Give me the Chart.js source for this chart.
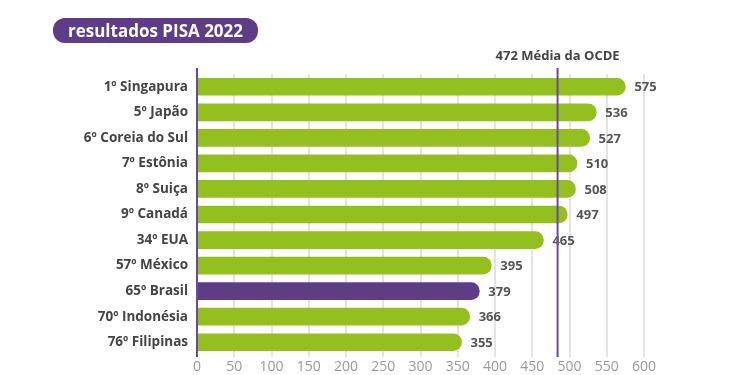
<!DOCTYPE html>
<html>
<head>
<meta charset="utf-8">
<script src="https://cdn.jsdelivr.net/npm/chart.js@4"></script>
<style>
  html, body { margin: 0; padding: 0; background: #fff; }
  #wrap { position: relative; width: 750px; height: 375px; }
  #title {
    position: absolute; left: 53px; top: 18px; width: 205px; height: 25px;
    background: #5e3d86; border-radius: 12px; color: #fff;
    font: 700 17px "Open Sans", sans-serif; text-align: center; line-height: 25px;
  }
  canvas { position: absolute; left: 0; top: 0; }
</style>
</head>
<body>
<div id="wrap">
  <canvas id="chart" width="750" height="375"></canvas>
  <div id="title">resultados PISA 2022</div>
</div>
<script>
const countries = ["1º Singapura", "5º Japão", "6º Coreia do Sul", "7º Estônia", "8º Suiça", "9º Canadá",
  "34º EUA", "57º México", "65º Brasil", "70º Indonésia", "76º Filipinas"];
const scores = [575, 536, 527, 510, 508, 497, 465, 395, 379, 366, 355];
const xTicks = [0, 50, 100, 150, 200, 250, 300, 350, 400, 450, 500, 550, 600];
const oecdLabel = "472 Média da OCDE";
const oecdLinePos = 484;

const green = "#93c01f";
const purple = "#5e3d86";
const font = "'Open Sans', sans-serif";

const barColors = countries.map(c => c.includes("Brasil") ? purple : green);

const overlay = {
  id: "overlay",
  afterDatasetsDraw(chart) {
    const { ctx, chartArea } = chart;
    const x = chart.scales.x;
    const meta = chart.getDatasetMeta(0);
    ctx.save();
    // value labels
    ctx.fillStyle = "#555";
    ctx.font = "700 13px " + font;
    ctx.textBaseline = "middle";
    meta.data.forEach((bar, i) => {
      ctx.fillText(scores[i], bar.x + 9, bar.y + 1);
    });
    // zero line
    ctx.strokeStyle = "#6b4a9a";
    ctx.lineWidth = 2;
    const x0 = x.getPixelForValue(0);
    ctx.beginPath();
    ctx.moveTo(x0, chartArea.top - 6);
    ctx.lineTo(x0, chartArea.bottom + 2);
    ctx.stroke();
    // OECD line
    const xm = x.getPixelForValue(oecdLinePos);
    ctx.beginPath();
    ctx.moveTo(xm, chartArea.top - 6);
    ctx.lineTo(xm, chartArea.bottom + 2);
    ctx.stroke();
    ctx.fillStyle = "#444";
    ctx.textAlign = "center";
    ctx.font = "700 13px " + font;
    ctx.fillText(oecdLabel, xm, chartArea.top - 18);
    ctx.restore();
  }
};

new Chart(document.getElementById("chart"), {
  type: "bar",
  data: {
    labels: countries,
    datasets: [{
      data: scores,
      backgroundColor: barColors,
      barThickness: 17,
      borderRadius: { topRight: 9, bottomRight: 9 },
      borderSkipped: false
    }]
  },
  options: {
    indexAxis: "y",
    responsive: false,
    animation: false,
    layout: { padding: { top: 74, right: 106, bottom: 0, left: 0 } },
    plugins: { legend: { display: false }, tooltip: { enabled: false } },
    scales: {
      x: {
        min: 0,
        max: 600,
        afterBuildTicks: s => { s.ticks = xTicks.map(v => ({ value: v })); },
        afterFit: s => { s.height = 20; },
        grid: { color: "#e3e3e3", lineWidth: 2, drawTicks: true, tickLength: 2 },
        border: { display: false },
        ticks: { color: "#999", font: { family: font, size: 14 }, padding: 2 }
      },
      y: {
        afterFit: s => { s.width = 197; },
        grid: { display: false },
        border: { display: false },
        ticks: { color: "#444", font: { family: font, size: 13.5, weight: "700" }, padding: 1 }
      }
    }
  },
  plugins: [overlay]
});
</script>
</body>
</html>
